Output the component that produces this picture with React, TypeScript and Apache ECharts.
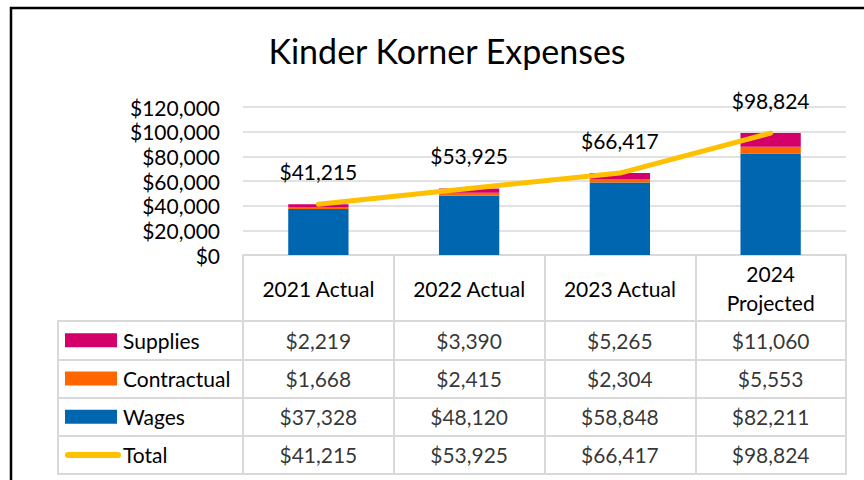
import React, { useEffect, useRef } from "react";
import * as echarts from "echarts";

const categories = ["2021 Actual", "2022 Actual", "2023 Actual", "2024\nProjected"];
const supplies = [2219, 3390, 5265, 11060];
const contractual = [1668, 2415, 2304, 5553];
const wages = [37328, 48120, 58848, 82211];
const total = [41215, 53925, 66417, 98824];
const rowNames = ["Supplies", "Contractual", "Wages", "Total"];
const yTicks = { min: 0, max: 120000, interval: 20000 };

const FONT = "Lato";
const FS = 21;
const COLORS: Record<string, string> = {
  Supplies: "#D20068",
  Contractual: "#FF6600",
  Wages: "#0066B0",
  Total: "#FFC000",
};
const GRID_LINE = "#D9D9D9";

const money = (v: number) => "$" + v.toLocaleString("en-US");

export default function App() {
  const ref = useRef<HTMLDivElement>(null);
  useEffect(() => {
    if (!ref.current) return;
    const chart = echarts.init(ref.current, null, { renderer: "svg" });
    const rowValues: Record<string, number[]> = {
      Supplies: supplies,
      Contractual: contractual,
      Wages: wages,
      Total: total,
    };
    const cellData: any[] = [];
    rowNames.forEach((r) => {
      categories.forEach((c, i) => {
        cellData.push([c, r, rowValues[r][i]]);
      });
    });
    const rich: any = {
      t: { fontFamily: FONT, fontSize: FS, color: "#000", padding: [0, 0, 0, 6] },
      tTotal: { fontFamily: FONT, fontSize: FS, color: "#000", padding: [0, 0, 0, 2] },
      kSupplies: { backgroundColor: COLORS.Supplies, width: 52, height: 14 },
      kContractual: { backgroundColor: COLORS.Contractual, width: 52, height: 14 },
      kWages: { backgroundColor: COLORS.Wages, width: 52, height: 14 },
      kTotal: { backgroundColor: COLORS.Total, width: 56, height: 6, borderRadius: 3 },
    };
    chart.setOption({
      animation: false,
      textStyle: { fontFamily: FONT },
      title: {
        text: "Kinder Korner Expenses",
        left: 442,
        textAlign: "center",
        top: 28,
        textStyle: { fontFamily: FONT, fontSize: 34, fontWeight: "normal", color: "#000" },
      },
      graphic: [
        {
          type: "polyline",
          shape: { points: [[11, 480], [11, 8], [864, 8]] },
          style: { stroke: "#000", lineWidth: 2.5, fill: "none" },
          silent: true,
        },
      ],
      grid: [
        { left: 243, top: 107, width: 603, height: 148 },
        { left: 243, top: 321, width: 603, height: 153 },
      ],
      xAxis: [
        {
          type: "category",
          gridIndex: 0,
          data: categories,
          axisLine: { show: true, lineStyle: { color: GRID_LINE, width: 2 } },
          axisTick: { show: true, length: 66, interval: 0, lineStyle: { color: GRID_LINE, width: 2 } },
          axisLabel: {
            interval: 0,
            fontFamily: FONT,
            fontSize: FS,
            color: "#000",
            margin: 33,
            verticalAlign: "middle",
            lineHeight: 29,
          },
        },
        {
          type: "category",
          gridIndex: 1,
          data: categories,
          axisLine: { show: true, lineStyle: { color: GRID_LINE, width: 2 } },
          axisTick: { show: false },
          axisLabel: { show: false },
          splitLine: { show: true, interval: 0, lineStyle: { color: GRID_LINE, width: 2 } },
        },
      ],
      yAxis: [
        {
          type: "value",
          gridIndex: 0,
          min: yTicks.min,
          max: yTicks.max,
          interval: yTicks.interval,
          axisLine: { show: false },
          axisTick: { show: false },
          splitLine: { show: true, lineStyle: { color: GRID_LINE, width: 1.5 } },
          axisLabel: {
            fontFamily: FONT,
            fontSize: FS,
            color: "#000",
            margin: 23,
            formatter: (v: number) => money(v),
          },
        },
        {
          type: "category",
          gridIndex: 1,
          data: rowNames,
          inverse: true,
          axisLine: { show: true, lineStyle: { color: GRID_LINE, width: 2 } },
          axisTick: { show: true, length: 185, interval: 0, lineStyle: { color: GRID_LINE, width: 2 } },
          splitLine: { show: true, interval: 0, lineStyle: { color: GRID_LINE, width: 2 } },
          axisLabel: {
            interval: 0,
            align: "left",
            margin: 178,
            formatter: (v: string) => `{k${v}|}{${v === "Total" ? "tTotal" : "t"}|${v}}`,
            rich,
          },
        },
        {
          type: "category",
          gridIndex: 1,
          data: rowNames,
          inverse: true,
          position: "left",
          offset: 185,
          axisLine: { show: true, lineStyle: { color: GRID_LINE, width: 2 } },
          axisTick: { show: false },
          axisLabel: { show: false },
          splitLine: { show: false },
        },
      ],
      series: [
        {
          name: "Wages",
          type: "bar",
          stack: "exp",
          barWidth: "40%",
          data: wages,
          itemStyle: { color: COLORS.Wages },
          xAxisIndex: 0,
          yAxisIndex: 0,
        },
        {
          name: "Contractual",
          type: "bar",
          stack: "exp",
          barWidth: "40%",
          data: contractual,
          itemStyle: { color: COLORS.Contractual },
          xAxisIndex: 0,
          yAxisIndex: 0,
        },
        {
          name: "Supplies",
          type: "bar",
          stack: "exp",
          barWidth: "40%",
          data: supplies,
          itemStyle: { color: COLORS.Supplies },
          xAxisIndex: 0,
          yAxisIndex: 0,
        },
        {
          name: "Total",
          type: "line",
          data: total,
          showSymbol: true,
          symbol: "circle",
          symbolSize: 1,
          lineStyle: { color: COLORS.Total, width: 5, cap: "round", join: "round" },
          itemStyle: { color: COLORS.Total },
          label: {
            show: true,
            position: "top",
            distance: 22,
            fontFamily: FONT,
            fontSize: FS,
            color: "#000",
            formatter: (p: any) => money(p.value),
          },
          xAxisIndex: 0,
          yAxisIndex: 0,
          z: 5,
        },
        {
          name: "cells",
          type: "scatter",
          xAxisIndex: 1,
          yAxisIndex: 1,
          data: cellData,
          symbol: "rect",
          symbolSize: 1,
          itemStyle: { color: "rgba(0,0,0,0)" },
          silent: true,
          label: {
            show: true,
            position: "inside",
            fontFamily: FONT,
            fontSize: FS,
            color: "#000",
            formatter: (p: any) => money(p.value[2]),
          },
        },
      ],
    });
    return () => chart.dispose();
  }, []);
  return (
    <div
      ref={ref}
      style={{ position: "fixed", left: 0, top: 0, width: 864, height: 480, background: "#fff" }}
    />
  );
}
